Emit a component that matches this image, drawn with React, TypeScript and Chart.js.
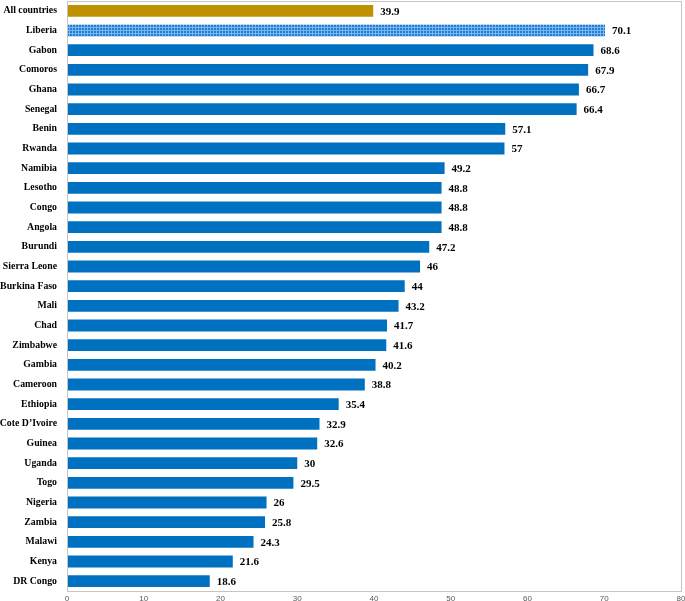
import React, { useEffect, useRef } from "react";
import { Chart, registerables } from "chart.js";

Chart.register(...registerables);

const countries = [
  "All countries", "Liberia", "Gabon", "Comoros", "Ghana", "Senegal", "Benin", "Rwanda",
  "Namibia", "Lesotho", "Congo", "Angola", "Burundi", "Sierra Leone", "Burkina Faso", "Mali",
  "Chad", "Zimbabwe", "Gambia", "Cameroon", "Ethiopia", "Cote D\u2019Ivoire", "Guinea", "Uganda",
  "Togo", "Nigeria", "Zambia", "Malawi", "Kenya", "DR Congo",
];
const values = [
  39.9, 70.1, 68.6, 67.9, 66.7, 66.4, 57.1, 57, 49.2, 48.8, 48.8, 48.8, 47.2, 46, 44, 43.2,
  41.7, 41.6, 40.2, 38.8, 35.4, 32.9, 32.6, 30, 29.5, 26, 25.8, 24.3, 21.6, 18.6,
];
const xTicks = [0, 10, 20, 30, 40, 50, 60, 70, 80];

const BLUE = "#0070C0";
const GOLD = "#BF9000";

function makePattern(): CanvasPattern | string {
  const c = document.createElement("canvas");
  c.width = 3;
  c.height = 3;
  const g = c.getContext("2d");
  if (!g) return "#2F86D8";
  g.fillStyle = "#1E7CD3";
  g.fillRect(0, 0, 3, 3);
  g.fillStyle = "#7DB8EC";
  g.fillRect(0, 0, 1, 3);
  g.fillRect(0, 0, 3, 1);
  const p = g.createPattern(c, "repeat");
  return p || "#2F86D8";
}

const labelPlugin = {
  id: "valueLabels",
  afterDatasetsDraw(chart: any) {
    const ctx = chart.ctx;
    const meta = chart.getDatasetMeta(0);
    ctx.save();
    ctx.font = "bold 11px 'Liberation Serif', 'Times New Roman', serif";
    ctx.fillStyle = "#000";
    ctx.textBaseline = "middle";
    ctx.textAlign = "left";
    meta.data.forEach((bar: any, i: number) => {
      ctx.fillText(String(values[i]), bar.x + 7, bar.y + 1);
    });
    ctx.restore();
  },
};

const framePlugin = {
  id: "frame",
  afterDraw(chart: any) {
    const { ctx, chartArea } = chart;
    ctx.save();
    ctx.strokeStyle = "#C6C6C6";
    ctx.lineWidth = 1;
    ctx.strokeRect(
      Math.round(chartArea.left) + 0.5,
      Math.round(chartArea.top) + 0.5,
      Math.round(chartArea.right - chartArea.left),
      Math.round(chartArea.bottom - chartArea.top)
    );
    ctx.restore();
  },
};

export default function App() {
  const ref = useRef<HTMLCanvasElement>(null);
  useEffect(() => {
    document.body.style.margin = "0";
    const canvas = ref.current;
    if (!canvas) return;
    const pattern = makePattern();
    const colors = values.map((_, i) => (i === 0 ? GOLD : i === 1 ? pattern : BLUE));
    const chart = new Chart(canvas, {
      type: "bar",
      data: {
        labels: countries,
        datasets: [
          {
            data: values,
            backgroundColor: colors as any,
            borderWidth: 0,
            categoryPercentage: 1,
            barPercentage: 0.6,
          },
        ],
      },
      options: {
        indexAxis: "y",
        animation: false,
        responsive: false,
        maintainAspectRatio: false,
        layout: { padding: { top: 1, right: 4, left: 0, bottom: 0 } },
        plugins: {
          legend: { display: false },
          tooltip: { enabled: false },
        },
        scales: {
          x: {
            min: 0,
            max: 80,
            afterFit: (s: any) => {
              s.height = 10;
              s.paddingLeft = 0;
              s.paddingRight = 0;
            },
            afterBuildTicks: (s: any) => {
              s.ticks = xTicks.map((v) => ({ value: v }));
            },
            grid: { display: false, drawTicks: false },
            border: { display: false },
            ticks: {
              padding: 3,
              color: "#595959",
              font: { size: 8, family: "'Liberation Sans', Arial, sans-serif" },
            },
          },
          y: {
            afterFit: (s: any) => {
              s.width = 67;
              s.paddingTop = 0;
              s.paddingBottom = 0;
            },
            grid: { display: false, drawTicks: false },
            border: { display: false },
            ticks: {
              padding: 10,
              color: "#000",
              autoSkip: false,
              font: { size: 9.8, weight: "bold", family: "'Liberation Serif', 'Times New Roman', serif" },
            },
          },
        },
      },
      plugins: [labelPlugin, framePlugin],
    });
    return () => chart.destroy();
  }, []);
  return (
    <div style={{ width: 685, height: 601 }}>
      <canvas ref={ref} width={685} height={601} style={{ display: "block" }} />
    </div>
  );
}
